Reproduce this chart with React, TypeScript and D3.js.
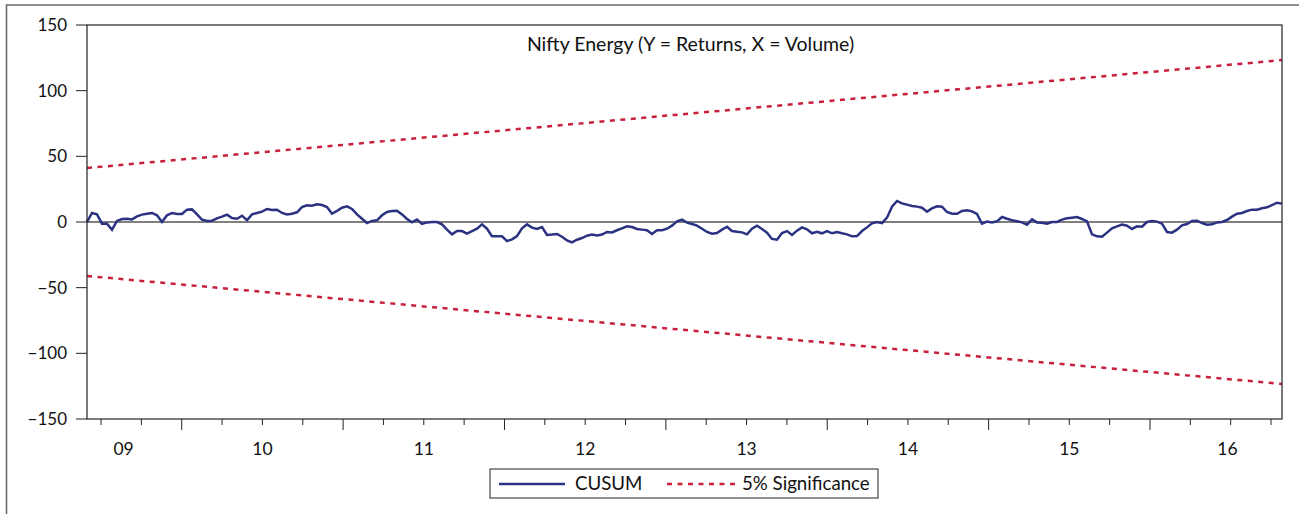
import * as d3 from "d3";

const W = 1299;
const H = 514;

// sample range in fractional years
const sampleStart = 2009.413;
const sampleEnd = 2016.818;

const yTicks = [-150, -100, -50, 0, 50, 100, 150];
const years = [2009, 2010, 2011, 2012, 2013, 2014, 2015, 2016];
const yearLabels = ["09", "10", "11", "12", "13", "14", "15", "16"];
const yearLabelAt = [2009.64, 2010.5, 2011.5, 2012.5, 2013.5, 2014.5, 2015.5, 2016.48];

// CUSUM at even steps across the sample
const cusum = [
  0, 6.9, 5.8, -1.3, -1.3, -6, 0.8, 2.3, 2.5, 2,
  4.3, 5.6, 6.3, 6.9, 5.1, 0, 5.1, 6.9, 6.1, 6.1,
  9.4, 9.6, 5.8, 1.8, 0.8, 1, 2.8, 4.1, 5.6, 3,
  2.5, 4.8, 1.3, 5.8, 6.9, 7.9, 9.9, 9.1, 9.4, 6.9,
  5.8, 6.3, 7.4, 11.4, 12.7, 12.4, 13.5, 12.9, 11.4, 6.3,
  8.4, 10.9, 11.9, 9.9, 5.8, 2.5, -0.8, 0.8, 1.3, 5.1,
  7.6, 8.4, 8.6, 5.8, 2.3, -0.3, 1.8, -1.5, -0.3, 0,
  0, -1.8, -5.8, -9.4, -6.9, -6.9, -8.9, -6.9, -5.1, -1.8,
  -5.1, -10.9, -10.9, -10.9, -14.5, -13.2, -10.7, -4.8, -1.8, -4.3,
  -5.3, -3.8, -9.9, -9.6, -9.1, -11.2, -14, -15.5, -13.5, -12.2,
  -10.4, -9.6, -10.2, -9.6, -7.6, -7.9, -6.3, -4.8, -3.3, -3.8,
  -5.3, -5.8, -6.3, -9.1, -6.3, -6.3, -5.1, -2.8, 0.5,
  1.8, -0.5, -1.5, -2.8, -5.1, -7.6, -8.9, -8.4, -5.8, -3.6,
  -6.9, -7.4, -7.9, -9.4, -5.1, -2.8, -5.3, -8.1, -12.9, -13.5,
  -8.4, -6.9, -9.9, -6.6, -4.1, -5.6, -8.6, -7.4, -8.6, -6.9,
  -8.6, -7.6, -8.6, -9.4, -10.9, -10.7, -6.9, -4.1, -1, 0,
  -0.8, 3.3, 11.7, 16, 14.2, 13.2, 12.2, 11.7, 10.9, 7.9,
  10.4, 11.9, 11.7, 7.6, 6.3, 6.3, 8.4, 8.9, 8.1,
  6.1, -1.3, 0.3, -0.3, 0.5, 3.8, 2.5, 1.3, 0.5, -0.3,
  -2, 2, -0.3, -0.5, -1.3, 0, 0, 1.8, 2.8, 3.3,
  3.8, 2.3, 0.5, -9.4, -10.9, -11.2, -8.1, -4.8, -3.3, -2,
  -2.8, -5.3, -3.3, -3.6, 0, 0.8, 0.3, -1.3, -7.6, -8.1,
  -5.8, -2.5, -1.5, 0.8, 1, -0.8, -2, -1.8, -0.3, 0,
  1.5, 4.1, 6.3, 6.9, 8.4, 9.4, 9.4, 10.4, 11.2, 12.9, 14.7, 14,
];

// 5% significance bounds at sample start / end
const sigUpper = [41.1, 123.3];
const sigLower = [-41.1, -123.3];

const FONT = "Lato, 'Open Sans', sans-serif";
const NAVY = "#2b3282";
const RED = "#c8203c";

export default function App() {
  const margin = { top: 25, right: 17, bottom: 95, left: 87 };
  const x0 = margin.left;
  const x1 = W - margin.right;
  const y0 = margin.top;
  const y1 = H - margin.bottom;

  const x = d3.scaleLinear().domain([sampleStart, sampleEnd]).range([x0, x1]);
  const y = d3.scaleLinear().domain([-150, 150]).range([y1, y0]);

  const step = (sampleEnd - sampleStart) / (cusum.length - 1);
  const pts: [number, number][] = cusum.map((v, i) => [sampleStart + i * step, v]);
  const line = d3.line<[number, number]>().x((d) => x(d[0])).y((d) => y(d[1]));

  const sigU: [number, number][] = [[sampleStart, sigUpper[0]], [sampleEnd, sigUpper[1]]];
  const sigL: [number, number][] = [[sampleStart, sigLower[0]], [sampleEnd, sigLower[1]]];

  const ticks: { t: number; major: boolean }[] = [];
  years.forEach((yr) => {
    for (let q = 0; q < 4; q++) {
      const t = yr + q / 4;
      if (t > sampleStart && t < sampleEnd) ticks.push({ t, major: q === 0 });
    }
  });

  const fmt = (v: number) => (v < 0 ? "\u2212" + Math.abs(v) : String(v));

  const legend = { x: 490, y: 469, w: 388, h: 29 };

  return (
    <svg
      width={W}
      height={H}
      style={{ position: "absolute", left: 0, top: 0, background: "#fff" }}
      fontFamily={FONT}
    >
      {/* outer frame */}
      <path d={`M6.5,${H} V5 H${W}`} fill="none" stroke="#6b6b6b" strokeWidth={1.6} />

      {/* y ticks + labels */}
      {yTicks.map((v) => (
        <g key={v}>
          <line x1={x0 - 11} x2={x0} y1={y(v)} y2={y(v)} stroke="#222" strokeWidth={1} />
          <text x={x0 - 20} y={y(v)} dy="0.36em" textAnchor="end" fontSize={17} fill="#111">
            {fmt(v)}
          </text>
        </g>
      ))}

      {/* x ticks */}
      {ticks.map((d) => (
        <line
          key={d.t}
          x1={x(d.t)}
          x2={x(d.t)}
          y1={y1}
          y2={y1 + (d.major ? 11 : 6)}
          stroke="#222"
          strokeWidth={1}
        />
      ))}
      {years.map((yr, i) => (
        <text key={yr} x={x(yearLabelAt[i])} y={y1 + 36} textAnchor="middle" fontSize={17.5} fill="#111">
          {yearLabels[i]}
        </text>
      ))}

      {/* zero line */}
      <line x1={x0} x2={x1} y1={y(0)} y2={y(0)} stroke="#555" strokeWidth={1.5} />

      {/* significance bounds */}
      <path d={line(sigU) ?? ""} fill="none" stroke={RED} strokeWidth={2.5} strokeDasharray="5 5.5" />
      <path d={line(sigL) ?? ""} fill="none" stroke={RED} strokeWidth={2.5} strokeDasharray="5 5.5" />

      {/* CUSUM */}
      <path d={line(pts) ?? ""} fill="none" stroke={NAVY} strokeWidth={2.5} strokeLinejoin="miter" />

      {/* plot box */}
      <rect x={x0} y={y0} width={x1 - x0} height={y1 - y0} fill="none" stroke="#222" strokeWidth={1.2} />

      {/* title */}
      <text x={(x0 + x1) / 2 + 6} y={51} textAnchor="middle" fontSize={19.5} fill="#111">
        Nifty Energy (Y = Returns, X = Volume)
      </text>

      {/* legend */}
      <rect x={legend.x} y={legend.y} width={legend.w} height={legend.h} fill="#fff" stroke="#222" strokeWidth={1} />
      <line x1={499} x2={565} y1={legend.y + 15} y2={legend.y + 15} stroke={NAVY} strokeWidth={2.5} />
      <text x={575} y={legend.y + 21} fontSize={18.7} fill="#111">CUSUM</text>
      <line x1={667} x2={735} y1={legend.y + 15} y2={legend.y + 15} stroke={RED} strokeWidth={2.5} strokeDasharray="5 5.5" />
      <text x={742} y={legend.y + 21} fontSize={18.7} fill="#111">5% Significance</text>
    </svg>
  );
}
